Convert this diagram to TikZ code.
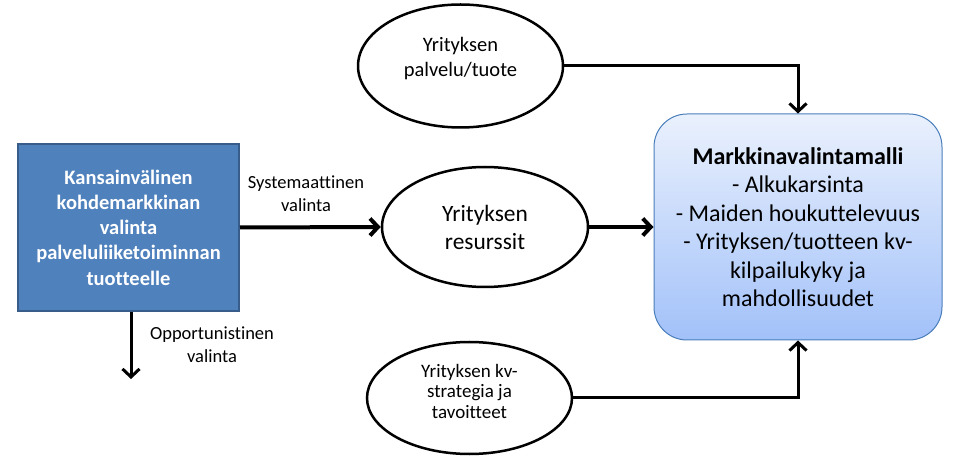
\documentclass[tikz,border=0pt]{standalone}
\usepackage{fontspec}
\setmainfont{Carlito}[Ligatures={NoCommon}]
\usetikzlibrary{shapes.geometric,arrows.meta}
\definecolor{boxblue}{HTML}{4F81BD}
\definecolor{boxedge}{HTML}{385D8A}
\definecolor{modeltop}{HTML}{EAF1FD}
\definecolor{modelbot}{HTML}{A2C1F9}
\definecolor{modeledge}{HTML}{4A7EBB}
\newcommand{\liftlines}[2]{\raisebox{#1}[0pt][0pt]{\begin{tabular}{@{}c@{}}#2\end{tabular}}}
\begin{document}
\begin{tikzpicture}[x=1pt,y=-1pt,
  oval/.style={ellipse,draw=black,line width=2.5pt,fill=white,inner sep=0pt,align=center},
  srcbox/.style={rectangle,draw=boxedge,line width=2pt,fill=boxblue,text=white,align=center,
    inner sep=0pt,font=\fontsize{20.5}{25.2}\selectfont\bfseries},
  modelbox/.style={rectangle,rounded corners=33pt,draw=modeledge,line width=1pt,
    top color=modeltop,bottom color=modelbot,align=center,inner sep=0pt,
    font=\fontsize{24}{28.5}\selectfont},
  lbl/.style={align=center,inner sep=0pt,font=\fontsize{18.5}{23}\selectfont},
  conn/.style={line width=3pt,-{Straight Barb[length=8pt,width=17pt]}},
  connthick/.style={line width=4pt,-{Straight Barb[length=8pt,width=17pt]}}
]
\useasboundingbox (0,0) rectangle (959,462);

\node[srcbox,minimum width=221pt,minimum height=167pt] (src) at (128.5,227.5)
  {Kansainvälinen\\kohdemarkkinan\\valinta\\palveluliiketoiminnan\\tuotteelle};

\node[oval,minimum width=205pt,minimum height=123pt,font=\fontsize{20.5}{25}\selectfont]
  (prod) at (460.5,66) {\liftlines{2pt}{Yrityksen\\palvelu/tuote}};
\node[oval,minimum width=206pt,minimum height=120pt,font=\fontsize{23.4}{28}\selectfont]
  (res) at (485,227) {Yrityksen\\resurssit};
\node[oval,minimum width=205pt,minimum height=112pt,font=\fontsize{19}{20.5}\selectfont]
  (strat) at (469.5,398) {\liftlines{0pt}{Yrityksen kv-\\strategia ja\\tavoitteet}};

\node[modelbox,minimum width=288pt,minimum height=226pt] (model) at (798,227)
  {\textbf{Markkinavalintamalli}\\- Alkukarsinta\\- Maiden houkuttelevuus\\- Yrityksen/tuotteen kv-\\kilpailukyky ja\\mahdollisuudet};

\node[lbl] (sysl) at (306,194) {Systemaattinen\\valinta};
\node[lbl] (oppl) at (212,345) {Opportunistinen\\valinta};

\coordinate (oppend) at (131,379);

\draw[connthick] (src.east) -- (res.west);
\draw[connthick] (res.east) -- (model.west);
\draw[conn] (prod.east) -| (model.north);
\draw[conn] (strat.east) -| (model.south);
\draw[conn] (src.south -| oppend) -- (oppend);
\end{tikzpicture}
\end{document}
